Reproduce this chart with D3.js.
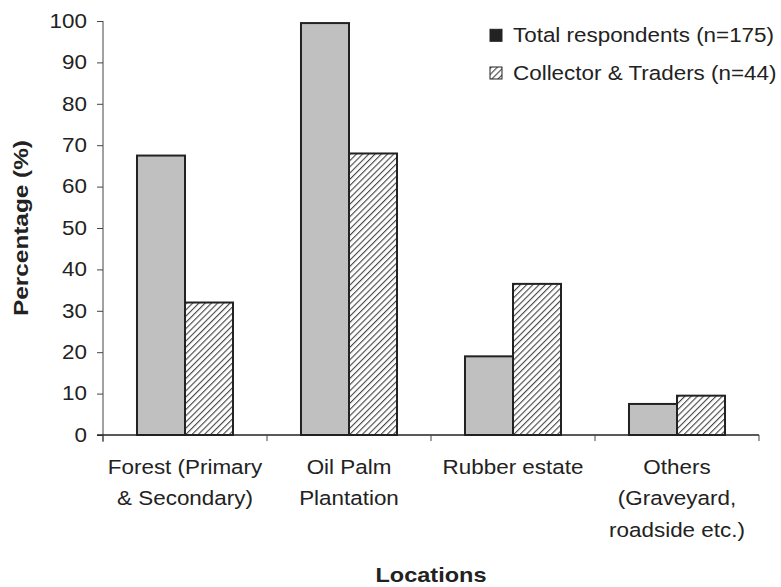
<!DOCTYPE html>
<html>
  <head>
    <script src="https://cdn.jsdelivr.net/npm/d3@7"></script>
    <style>
      body { margin: 0; background: #fff; }
      text { font-family: "Liberation Sans", Arial, sans-serif; fill: #222; }
    </style>
  </head>
  <body>
    <svg id="chart" width="781" height="587"></svg>
    <script>
      var categories = [
        ["Forest (Primary", "& Secondary)"],
        ["Oil Palm", "Plantation"],
        ["Rubber estate"],
        ["Others", "(Graveyard,", "roadside etc.)"]
      ];
      var seriesNames = ["Total respondents (n=175)", "Collector & Traders (n=44)"];
      var totalValues = [67.5, 99.5, 19, 7.5];
      var traderValues = [32, 68, 36.5, 9.5];
      var yTicks = [0, 10, 20, 30, 40, 50, 60, 70, 80, 90, 100];

      var svg = d3.select("#chart");
      // plot box (avoid "top", it is window.top)
      var pLeft = 103, pRight = 759, pTop = 21, pBottom = 435;
      var fs = "19.5px", sx = 1.15;   // text in the original is a bit wide

      // hatch for the second series
      var defs = svg.append("defs");
      var pat = defs.append("pattern").attr("id", "hatch")
        .attr("patternUnits", "userSpaceOnUse").attr("width", 4.4).attr("height", 4.4)
        .attr("patternTransform", "rotate(45)");
      pat.append("rect").attr("width", 4.4).attr("height", 4.4).attr("fill", "#fff");
      pat.append("line").attr("x1", 0).attr("y1", 0).attr("x2", 0).attr("y2", 4.4)
        .attr("stroke", "#444").attr("stroke-width", 2.2);

      var x = d3.scaleBand().domain(d3.range(categories.length)).range([pLeft, pRight]).paddingInner(0).paddingOuter(0);
      var y = d3.scaleLinear().domain([0, 100]).range([pBottom, pTop]);
      var inner = d3.scaleBand().domain([0, 1]).range([0, x.bandwidth()]).paddingOuter(0.708).paddingInner(0);

      var data = categories.map((c, i) => ({ i: i, vals: [totalValues[i], traderValues[i]] }));

      var groups = svg.append("g").selectAll("g").data(data).enter().append("g")
        .attr("transform", d => "translate(" + x(d.i) + ",0)");
      groups.selectAll("rect").data(d => d.vals).enter().append("rect")
        .attr("x", (v, j) => inner(j)).attr("width", inner.bandwidth())
        .attr("y", v => y(v)).attr("height", v => pBottom - y(v))
        .attr("fill", (v, j) => j == 0 ? "#c0c0c0" : "url(#hatch)")
        .attr("stroke", "#222").attr("stroke-width", 2);

      // y axis
      var yAxis = svg.append("g").attr("transform", "translate(" + pLeft + ",0)")
        .call(d3.axisLeft(y).tickValues(yTicks).tickSize(6).tickPadding(8));
      yAxis.select(".domain").attr("stroke", "#444").attr("d", "M0," + pTop + "V" + (pBottom + 7));
      yAxis.selectAll(".tick line").attr("stroke", "#444");
      yAxis.selectAll(".tick text").style("font-size", fs).attr("fill", "#222")
        .attr("transform", "scale(" + sx + ",1)");

      // x axis
      var xAxis = svg.append("g").attr("transform", "translate(0," + pBottom + ")");
      xAxis.append("line").attr("x1", pLeft - 6).attr("x2", pRight).attr("stroke", "#222").attr("stroke-width", 1.5);
      xAxis.selectAll("line.tk").data(d3.range(categories.length + 1)).enter().append("line")
        .attr("class", "tk")
        .attr("x1", i => i < categories.length ? x(i) : pRight)
        .attr("x2", i => i < categories.length ? x(i) : pRight)
        .attr("y1", 0).attr("y2", 6).attr("stroke", "#444");

      var labels = svg.append("g").selectAll("g").data(categories).enter().append("g")
        .attr("transform", (c, i) => "translate(" + (x(i) + x.bandwidth() / 2) + ",474) scale(" + sx + ",1)")
        .append("text").attr("text-anchor", "middle").style("font-size", fs);
      labels.selectAll("tspan").data(c => c).enter().append("tspan")
        .attr("x", 0).attr("y", (t, k) => k * 31.5).text(t => t);

      // titles
      svg.append("text").attr("transform", "translate(" + ((pLeft + pRight) / 2) + ",582) scale(1.12,1)")
        .attr("text-anchor", "middle").style("font-size", "21px").style("font-weight", "bold")
        .text("Locations");
      svg.append("text").attr("transform", "translate(28," + ((pTop + pBottom) / 2) + ") rotate(-90) scale(1.16,1)")
        .attr("text-anchor", "middle").style("font-size", "21px").style("font-weight", "bold")
        .text("Percentage (%)");

      // legend
      var legend = svg.append("g").selectAll("g").data(seriesNames).enter().append("g")
        .attr("transform", (s, i) => "translate(490," + (42.3 + i * 37.7) + ")");
      legend.append("rect").attr("y", -13).attr("width", 12).attr("height", 12)
        .attr("fill", (s, i) => i == 0 ? "#222" : "url(#hatch)")
        .attr("stroke", "#222").attr("stroke-width", 1);
      legend.append("g").attr("transform", "translate(23,0) scale(" + sx + ",1)")
        .append("text").style("font-size", fs).text(s => s);
    </script>
  </body>
</html>
